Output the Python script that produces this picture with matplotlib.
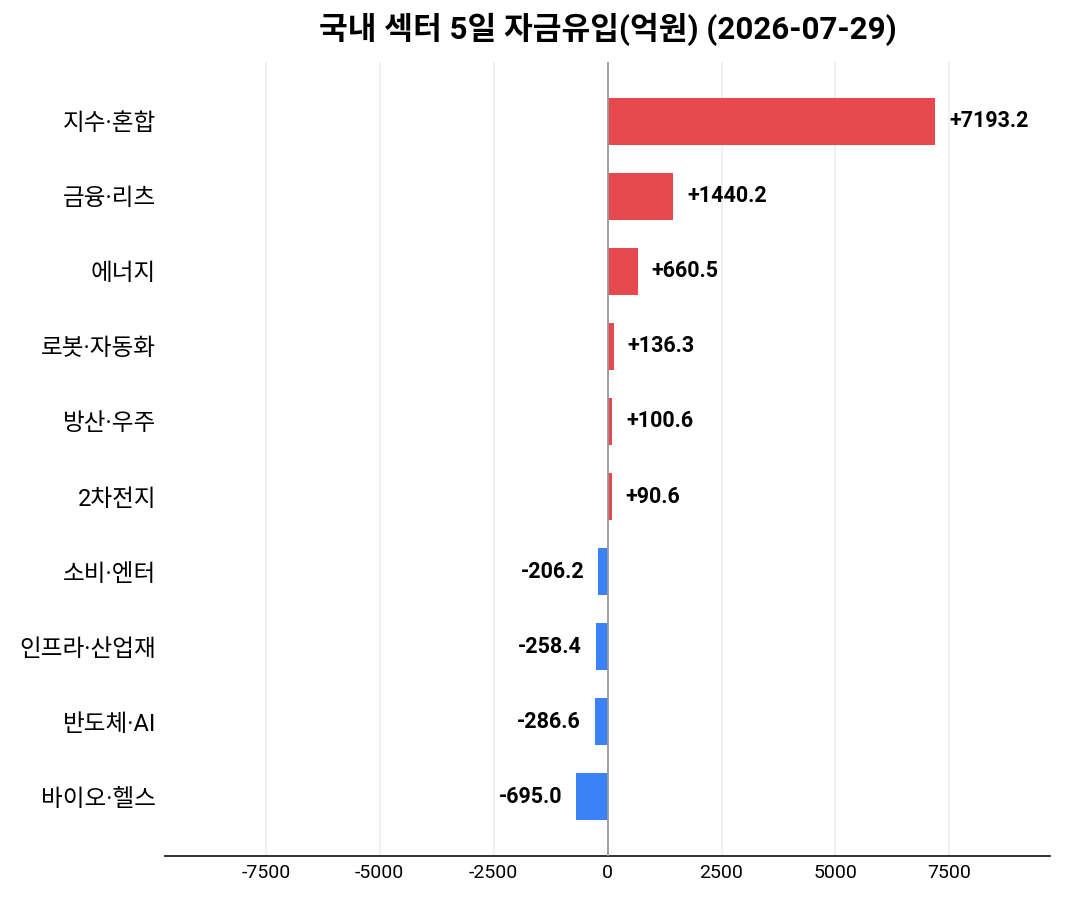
import matplotlib
matplotlib.use("Agg")
import matplotlib.pyplot as plt

# Latin glyphs from Roboto, Hangul falls through to the CJK family
plt.rcParams['font.family'] = ['Roboto', 'Noto Sans CJK KR', 'DejaVu Sans']
plt.rcParams['axes.unicode_minus'] = False

# sectors, top to bottom
sectors = ["지수·혼합", "금융·리츠", "에너지", "로봇·자동화", "방산·우주",
           "2차전지", "소비·엔터", "인프라·산업재", "반도체·AI", "바이오·헬스"]
flows = [7193.2, 1440.2, 660.5, 136.3, 100.6, 90.6, -206.2, -258.4, -286.6, -695.0]

RED = "#e5484d"
BLUE = "#3b82f6"

fig = plt.figure(figsize=(10.65, 9), dpi=100)
ax = fig.add_axes([0.155, 0.049, 0.831, 0.882])

ypos = list(range(len(sectors)))
colors = [RED if v >= 0 else BLUE for v in flows]
ax.barh(ypos, flows, height=0.62, color=colors, zorder=3)

lim = max(abs(v) for v in flows) * 1.35
ax.set_xlim(-lim, lim)
ax.set_ylim(len(sectors) - 0.21, -0.79)

ax.axvline(0, color="#999999", lw=1.3, zorder=4)
ax.grid(axis="x", color="#eeeeee", lw=1.2, zorder=0)
ax.set_axisbelow(True)

for y, v in zip(ypos, flows):
    if v >= 0:
        ax.annotate(f"+{v:.1f}", (v, y), xytext=(10, 0), textcoords="offset points",
                    ha="left", va="center", fontsize=15.5, fontweight="bold")
    else:
        ax.annotate(f"{v:.1f}", (v, y), xytext=(-10, 0), textcoords="offset points",
                    ha="right", va="center", fontsize=15.5, fontweight="bold")

ax.set_yticks(ypos)
ax.set_yticklabels(sectors, fontsize=17)
ax.set_xticks([-7500, -5000, -2500, 0, 2500, 5000, 7500])
ax.tick_params(axis="both", length=0)
ax.tick_params(axis="x", labelsize=14, pad=6)
ax.tick_params(axis="y", pad=6.5)

for s in ["top", "right", "left"]:
    ax.spines[s].set_visible(False)
ax.spines["bottom"].set_color("#222222")
ax.spines["bottom"].set_linewidth(1.3)

ax.set_title("국내 섹터 5일 자금유입(억원) (2026-07-29)", fontsize=22.5, fontweight="bold", pad=17)

fig.savefig("out.png", dpi=100)
